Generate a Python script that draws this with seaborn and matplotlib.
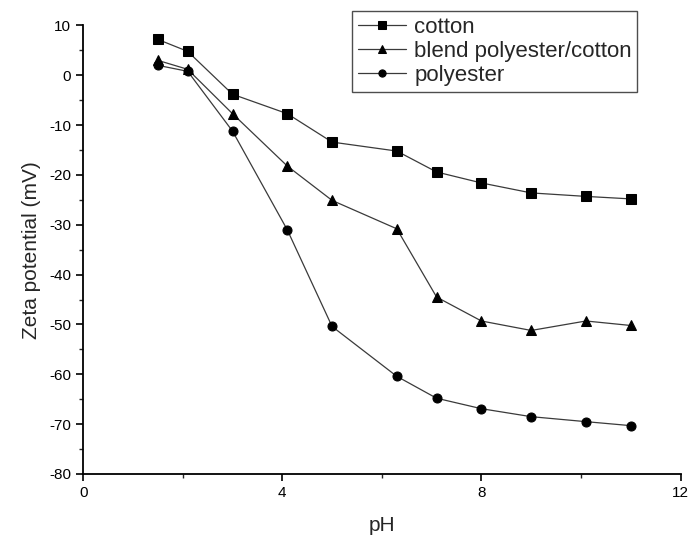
import matplotlib
matplotlib.use("Agg")
import matplotlib.pyplot as plt
import seaborn as sns
import pandas as pd
from matplotlib.ticker import MultipleLocator

ph = [1.5, 2.1, 3.0, 4.1, 5.0, 6.3, 7.1, 8.0, 9.0, 10.1, 11.0]
cotton = [7.2, 4.8, -3.8, -7.7, -13.4, -15.2, -19.4, -21.6, -23.6, -24.3, -24.8]
blend = [3.0, 1.2, -7.7, -18.2, -25.1, -30.8, -44.5, -49.3, -51.2, -49.3, -50.2]
polyester = [2.0, 0.8, -11.2, -31.0, -50.4, -60.4, -64.8, -66.9, -68.5, -69.5, -70.3]
series_names = ["cotton", "blend polyester/cotton", "polyester"]

sns.set_style("ticks")
plt.rcParams['font.family'] = ['Liberation Sans', 'DejaVu Sans']
plt.rcParams['axes.unicode_minus'] = False

df = pd.concat([
    pd.DataFrame({"pH": ph, "zeta": vals, "series": name})
    for name, vals in zip(series_names, [cotton, blend, polyester])
])

fig = plt.figure(figsize=(6.93, 5.42), dpi=100)
ax = fig.add_axes([0.12, 0.1255, 0.862, 0.8275])

sns.lineplot(data=df, x="pH", y="zeta", style="series", hue="series",
             palette=["#3a3a3a"] * 3, markers=["s", "^", "o"], dashes=False,
             markersize=6.5, linewidth=0.9, ax=ax, sort=False, legend=True)
for line in ax.lines:
    line.set_markerfacecolor("black")
    line.set_markeredgecolor("black")

ax.set_xlim(0, 12)
ax.set_ylim(-80, 10)
ax.xaxis.set_major_locator(MultipleLocator(4))
ax.xaxis.set_minor_locator(MultipleLocator(2))
ax.yaxis.set_major_locator(MultipleLocator(10))
ax.yaxis.set_minor_locator(MultipleLocator(5))
ax.tick_params(which="major", direction="out", length=5, width=1.2, labelsize=11, colors="black")
ax.tick_params(which="minor", direction="out", length=3, width=1.0)
for s in ["top", "right"]:
    ax.spines[s].set_visible(False)
for s in ["left", "bottom"]:
    ax.spines[s].set_linewidth(1.3)
    ax.spines[s].set_color("black")

ax.set_xlabel("pH", fontsize=15, labelpad=12)
ax.set_ylabel("Zeta potential (mV)", fontsize=15, labelpad=6)

handles, labels = ax.get_legend_handles_labels()
for h in handles:
    h.set_markerfacecolor("black")
    h.set_markeredgecolor("black")
leg = fig.legend(handles, labels, loc="upper left", bbox_to_anchor=(352/693, 1 - 11/542),
                 frameon=True, fancybox=False, fontsize=16, handlelength=2.2,
                 markerscale=0.8, borderpad=0.25, labelspacing=0.15, handletextpad=0.35,
                 borderaxespad=0)
leg.get_frame().set_edgecolor("#222222")
leg.get_frame().set_linewidth(1.0)
if ax.get_legend():
    ax.get_legend().remove()

fig.savefig("out.png", dpi=100)
